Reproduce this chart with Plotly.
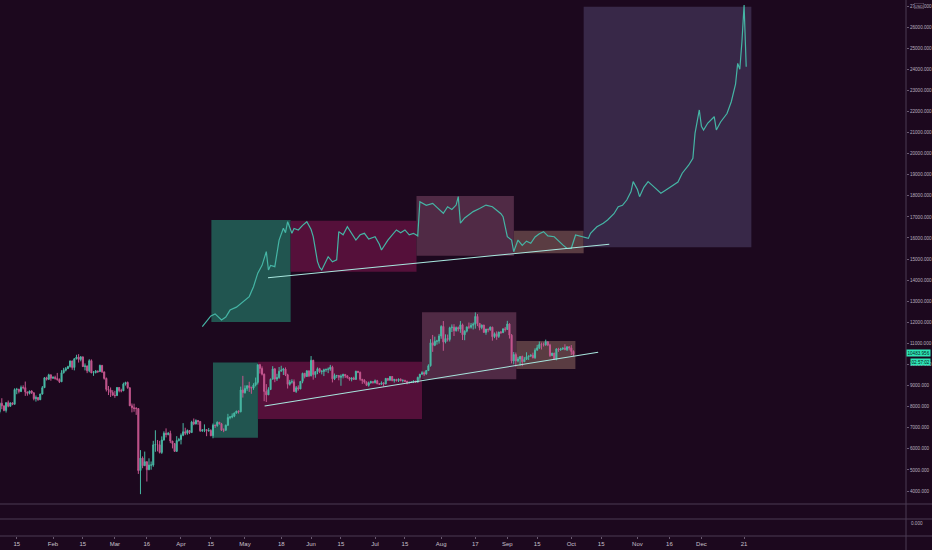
import plotly.graph_objects as go
import pandas as pd

# daily BTCUSD candles, Jan 7 - Oct 2 2020
first_open = 7760
closes = [
    # Jan 7-31
    8160, 8040, 7820, 8190, 8020, 8180, 8110, 8810, 8820, 8720, 8910, 8900, 8700, 8630, 8740, 8660,
    8380, 8430, 8330, 8600, 8900, 9370, 9300, 9510, 9350,
    # Feb
    9390, 9340, 9290, 9180, 9610, 9730, 9800, 9900, 10170, 9860, 10270, 10350, 10240, 10360, 9900,
    9930, 9700, 10180, 9600, 9610, 9690, 9660, 9960, 9650, 9340, 8820, 8790, 8670, 8540,
    # Mar
    8530, 8910, 8760, 8750, 9070, 9150, 8900, 8040, 7950, 7910, 7910, 4970, 5560, 5200, 5390, 5010,
    5230, 5230, 6190, 6200, 6190, 5830, 6420, 6740, 6680, 6730, 6370, 6250, 5880, 6390, 6440,
    # Apr
    6640, 6810, 6740, 6870, 6770, 7270, 7180, 7340, 7300, 6860, 6880, 6910, 6860, 6870, 6620, 7120,
    7100, 7260, 7190, 6880, 6880, 7120, 7480, 7510, 7550, 7700, 7790, 7760, 8790, 8660,
    # May
    8860, 8990, 8910, 8880, 9030, 9150, 9990, 9810, 9540, 8720, 8560, 8810, 9300, 9790, 9310, 9380,
    9680, 9730, 9780, 9510, 9060, 9170, 9180, 8720, 8900, 8840, 9200, 9580, 9430, 9700, 9460,
    # Jun
    10200, 9520, 9660, 9800, 9660, 9670, 9750, 9770, 9780, 9870, 9320, 9480, 9480, 9390, 9450, 9530,
    9460, 9380, 9300, 9360, 9290, 9680, 9630, 9300, 9250, 9160, 9010, 9120, 9190, 9140,
    # Jul
    9230, 9090, 9060, 9130, 9080, 9340, 9250, 9430, 9240, 9290, 9240, 9300, 9240, 9250, 9200, 9130,
    9150, 9170, 9210, 9160, 9390, 9540, 9610, 9550, 9710, 9940, 11030, 10910, 11100, 11110, 11350,
    # Aug
    11800, 11070, 11230, 11190, 11740, 11770, 11600, 11750, 11680, 11880, 11410, 11580, 11780, 11770,
    11860, 11910, 12280, 11950, 11750, 11870, 11520, 11680, 11650, 11770, 11320, 11460, 11330, 11540,
    11510, 11690, 11660,
    # Sep
    11920, 11390, 10170, 10470, 10170, 10260, 10380, 10130, 10240, 10370, 10400, 10440, 10320, 10680,
    10790, 10950, 10940, 10930, 11080, 10920, 10420, 10540, 10240, 10740, 10690, 10730, 10780, 10700,
    10840, 10780,
    # Oct 1-2
    10620, 10483.956,
]
highs = [
    8210, 8400, 8050, 8200, 8290, 8190, 8190, 8870, 8890, 8850, 9000, 9010, 9190, 8710, 8760, 8780,
    8670, 8530, 8460, 8610, 8980, 9400, 9420, 9560, 9520,
    9440, 9470, 9600, 9340, 9730, 9840, 9880, 9940, 10180, 10160, 10300, 10460, 10490, 10400, 10380,
    10050, 9950, 10250, 10240, 9690, 9740, 9710, 9990, 9970, 9650, 9380, 8980, 8910, 8780,
    8750, 8930, 8930, 8850, 9140, 9180, 9190, 8900, 8150, 8140, 7980, 7930, 5940, 5640, 5870, 5380,
    5550, 5400, 6380, 6880, 6420, 6380, 6590, 6830, 6970, 6800, 6860, 6370, 6260, 6600, 6520,
    6730, 7220, 7000, 6920, 6880, 7330, 7440, 7400, 7370, 7300, 6940, 7160, 6920, 6990, 6930, 7200,
    7150, 7300, 7270, 7230, 6970, 7150, 7660, 7560, 7680, 7720, 7800, 7820, 8950, 9460,
    9010, 9010, 9180, 8950, 9110, 9380, 9990, 10030, 9910, 9570, 9070, 8920, 9330, 9920, 9830, 9560,
    9880, 9940, 9840, 9860, 9560, 9270, 9300, 9290, 8980, 9010, 9210, 9610, 9600, 9720, 9700,
    10400, 10220, 9680, 9860, 9840, 9740, 9800, 9800, 9860, 9980, 9940, 9570, 9490, 9490, 9530, 9560,
    9540, 9480, 9390, 9390, 9420, 9700, 9690, 9660, 9310, 9300, 9200, 9190, 9230, 9190,
    9290, 9270, 9120, 9200, 9150, 9360, 9360, 9450, 9450, 9320, 9320, 9340, 9340, 9290, 9270, 9230,
    9190, 9190, 9240, 9220, 9420, 9550, 9680, 9670, 9730, 10010, 11200, 11400, 11320, 11170, 11450,
    11860, 12060, 11430, 11420, 11790, 11900, 11910, 11800, 11800, 12060, 11940, 11620, 11800, 11990,
    11970, 11990, 12470, 12390, 11960, 11890, 11880, 11680, 11700, 11800, 11790, 11520, 11570, 11550,
    11590, 11700, 11780,
    12070, 11950, 11440, 10590, 10570, 10360, 10400, 10420, 10350, 10580, 10420, 10480, 10560, 10770,
    10930, 11090, 11040, 11040, 11180, 11050, 10980, 10550, 10550, 10770, 10790, 10790, 10800, 10960,
    10860, 10860,
    10920, 10670,
]
lows = [
    7680, 7880, 7780, 7720, 7970, 8000, 8070, 8110, 8590, 8630, 8690, 8820, 8510, 8520, 8580, 8600,
    8300, 8240, 8280, 8310, 8570, 8890, 9240, 9260, 9230,
    9320, 9280, 9230, 9120, 9170, 9570, 9670, 9800, 9850, 9750, 9720, 10240, 10090, 10150, 9880,
    9720, 9590, 9630, 9600, 9460, 9580, 9600, 9660, 9600, 9280, 8720, 8550, 8460, 8530,
    8420, 8500, 8680, 8680, 8750, 9000, 8850, 8030, 7730, 7760, 7610, 4810, 3850, 5080, 5210, 4450,
    4990, 5010, 5150, 5860, 5880, 5780, 5760, 6390, 6540, 6640, 6270, 6020, 5900, 5860, 6350,
    6210, 6600, 6650, 6670, 6700, 6780, 7120, 7160, 7140, 6800, 6800, 6790, 6600, 6810, 6600, 6500,
    6990, 7050, 7150, 6850, 6790, 6860, 7080, 7400, 7450, 7500, 7670, 7670, 7730, 8430,
    8620, 8750, 8700, 8610, 8800, 8960, 9050, 9570, 9480, 8260, 8220, 8580, 8800, 9300, 9160, 9220,
    9320, 9670, 9500, 9450, 8860, 9000, 9090, 8710, 8650, 8760, 8830, 9110, 9340, 9410, 9400,
    9440, 9280, 9370, 9540, 9590, 9530, 9450, 9650, 9590, 9700, 9150, 9260, 9360, 9250, 8990, 9340,
    9360, 9330, 9230, 9200, 9280, 9290, 9590, 9230, 9080, 9090, 8990, 8950, 9100, 9090,
    9100, 9060, 9040, 9050, 8950, 9060, 9230, 9240, 9200, 9140, 9190, 9170, 9200, 9150, 9170, 9060,
    9110, 9130, 9120, 9130, 9150, 9270, 9520, 9460, 9520, 9700, 9900, 10600, 10870, 10940, 10990,
    11220, 10650, 11000, 11090, 11090, 11540, 11350, 11560, 11570, 11500, 11160, 11150, 11520, 11680,
    11700, 11660, 11700, 11820, 11620, 11670, 11510, 11410, 11530, 11600, 11130, 11250, 11170, 11260,
    11450, 11490, 11560,
    11660, 11230, 10050, 10010, 9900, 10100, 9940, 9920, 10120, 10220, 10210, 10360, 10290, 10270,
    10650, 10730, 10710, 10850, 10890, 10870, 10360, 10420, 10220, 10200, 10600, 10650, 10690, 10680,
    10640, 10670,
    10450, 10390,
]
dates = pd.date_range("2020-01-07", periods=len(closes), freq="D")
opens = [first_open] + closes[:-1]

# 2017 fractal projected over 2020 (teal line)
fractal_dates = [
    "2020-04-11", "2020-04-13", "2020-04-15", "2020-04-17", "2020-04-20", "2020-04-22", "2020-04-24",
    "2020-04-27", "2020-04-29", "2020-05-01", "2020-05-03", "2020-05-05", "2020-05-07", "2020-05-09",
    "2020-05-11", "2020-05-12", "2020-05-13", "2020-05-15", "2020-05-17", "2020-05-19", "2020-05-20",
    "2020-05-21", "2020-05-23", "2020-05-24", "2020-05-26", "2020-05-28", "2020-05-30", "2020-06-01",
    "2020-06-02", "2020-06-04", "2020-06-05", "2020-06-06", "2020-06-08", "2020-06-09", "2020-06-11",
    "2020-06-13", "2020-06-14", "2020-06-16", "2020-06-18", "2020-06-20", "2020-06-22", "2020-06-24",
    "2020-06-26", "2020-06-28", "2020-07-01", "2020-07-03", "2020-07-04", "2020-07-07", "2020-07-09",
    "2020-07-11", "2020-07-13", "2020-07-15", "2020-07-17", "2020-07-19", "2020-07-21", "2020-07-22",
    "2020-07-25", "2020-07-28", "2020-07-30", "2020-08-02", "2020-08-04", "2020-08-06", "2020-08-08",
    "2020-08-09", "2020-08-10", "2020-08-12", "2020-08-14", "2020-08-16", "2020-08-19", "2020-08-22",
    "2020-08-25", "2020-08-27", "2020-08-29", "2020-08-30", "2020-09-01", "2020-09-03", "2020-09-04",
    "2020-09-06", "2020-09-08", "2020-09-10", "2020-09-12", "2020-09-14", "2020-09-16", "2020-09-18",
    "2020-09-20", "2020-09-23", "2020-09-25", "2020-09-27", "2020-09-29", "2020-10-01", "2020-10-03",
    "2020-10-06", "2020-10-09", "2020-10-10", "2020-10-13", "2020-10-16", "2020-10-18", "2020-10-21",
    "2020-10-23", "2020-10-25", "2020-10-27", "2020-10-29", "2020-10-30", "2020-11-01", "2020-11-02",
    "2020-11-04", "2020-11-06", "2020-11-09", "2020-11-12", "2020-11-14", "2020-11-17", "2020-11-20",
    "2020-11-22", "2020-11-25", "2020-11-27", "2020-11-28", "2020-11-30", "2020-12-01", "2020-12-02",
    "2020-12-04", "2020-12-07", "2020-12-08", "2020-12-10", "2020-12-12", "2020-12-13", "2020-12-15",
    "2020-12-17", "2020-12-18", "2020-12-19", "2020-12-20", "2020-12-21", "2020-12-22",
]
fractal_prices = [
    11790, 12050, 12300, 12400, 12110, 12250, 12580,
    12720, 12900, 13050, 13220, 13690, 14330, 14700,
    15350, 14480, 14700, 14640, 15900, 16460, 16250,
    16770, 16220, 16450, 16380, 16600, 16770, 16400,
    16060, 14880, 14600, 14480, 14900, 15110, 14870,
    14960, 16300, 16150, 16530, 16200, 15900, 16150,
    16220, 15950, 16060, 15700, 15430, 15900, 16150,
    16380, 16250, 16380, 16150, 16220, 16100, 17720,
    17550, 17640, 17450, 17170, 17480, 17350, 17560,
    17960, 16700, 16950, 17100, 17250, 17400, 17560,
    17480, 17330, 17150, 17010, 16060, 15900, 15350,
    15900, 15650, 15850, 15750, 16050, 16200, 16300,
    16100, 16060, 15850, 15670, 15500, 15510, 16140,
    16060, 15980, 16220, 16530, 16700, 16850, 17150,
    17480, 17550, 17800, 18200, 18670, 18300, 17960,
    18400, 18670, 18400, 18120, 18250, 18430, 18650,
    19070, 19450, 19780, 20960, 22070, 21300, 21120,
    21450, 21750, 21120, 21500, 21750, 21900, 22460,
    23300, 24280, 24000, 25310, 27050, 24120,
]

# boxes: (start, end, low, high, colour)
box_starts = ["2020-04-15 06:00", "2020-05-22 10:00", "2020-07-20 10:00", "2020-09-04 02:00", "2020-10-06 19:00",
              "2020-04-16", "2020-05-07 02:00", "2020-07-23", "2020-09-05 05:00"]
box_ends = ["2020-05-22 10:00", "2020-07-20 10:00", "2020-09-04 02:00", "2020-10-06 19:00", "2020-12-24 10:00",
            "2020-05-07 02:00", "2020-07-23", "2020-09-05 05:00", "2020-10-02 22:00"]
box_lows = [12015, 14400, 15160, 15270, 15560, 6530, 7420, 9300, 9790]
box_highs = [16850, 16820, 17990, 16345, 26970, 10100, 10130, 12475, 11115]
box_colors = ["#215550", "#55103a", "#502a45", "#5a3c42", "#382848",
              "#215550", "#55103a", "#502a45", "#5a3c42"]

# trend lines
trend_starts = ["2020-05-11 19:00", "2020-05-10 05:00"]
trend_ends = ["2020-10-18 19:00", "2020-10-13 14:00"]
trend_y0 = [14116, 8032]
trend_y1 = [15700, 10578]

tick_dates = ["2020-01-15", "2020-02-01", "2020-02-15", "2020-03-01", "2020-03-16", "2020-04-01",
              "2020-04-15", "2020-05-01", "2020-05-18", "2020-06-01", "2020-06-15", "2020-07-01",
              "2020-07-15", "2020-08-01", "2020-08-17", "2020-09-01", "2020-09-15", "2020-10-01",
              "2020-10-15", "2020-11-01", "2020-11-16", "2020-12-01", "2020-12-21"]
tick_text = ["15", "Feb", "15", "Mar", "16", "Apr", "15", "May", "18", "Jun", "15", "Jul", "15", "Aug",
             "17", "Sep", "15", "Oct", "15", "Nov", "16", "Dec", "21"]
price_ticks = list(range(4000, 28000, 1000))

bg = "#1c081e"
sep = "#4a3a52"
narrow = "Liberation Sans Narrow, Liberation Sans, Arial, sans-serif"
label_font = dict(family=narrow, size=4.6, color="#b8aebe")

fig = go.Figure()

fig.add_trace(go.Candlestick(
    x=dates, open=opens, high=highs, low=lows, close=closes,
    increasing=dict(line=dict(color="#48b8a4", width=1), fillcolor="#48b8a4"),
    decreasing=dict(line=dict(color="#c4568e", width=1), fillcolor="#c4568e"),
    whiskerwidth=0, showlegend=False,
))

fig.add_trace(go.Scatter(
    x=fractal_dates, y=fractal_prices, mode="lines",
    line=dict(color="#45b5a5", width=1.2), showlegend=False,
))

shapes = []
for x0, x1, y0, y1, c in zip(box_starts, box_ends, box_lows, box_highs, box_colors):
    shapes.append(dict(type="rect", xref="x", yref="y", x0=x0, x1=x1, y0=y0, y1=y1,
                       fillcolor=c, line=dict(width=0), layer="below"))
for x0, x1, y0, y1 in zip(trend_starts, trend_ends, trend_y0, trend_y1):
    shapes.append(dict(type="line", xref="x", yref="y", x0=x0, x1=x1, y0=y0, y1=y1,
                       line=dict(color="#a8e6de", width=1.1)))

# pane separators and price-scale border
for py in [0.0597, 0.0317, 0.0]:
    shapes.append(dict(type="line", xref="paper", yref="paper", x0=0, x1=1.03, y0=py, y1=py,
                       line=dict(color=sep, width=1)))
shapes.append(dict(type="line", xref="paper", yref="paper", x0=1, x1=1, y0=-0.03, y1=1,
                   line=dict(color=sep, width=1)))

badge_font = dict(family=narrow, size=4.6, color="#06201a")
annotations = [
    dict(xref="paper", yref="y", x=1, y=10483.956, xanchor="left", yshift=1, text="10483.956",
         showarrow=False, bgcolor="#2ee6b6", font=badge_font, borderpad=0.5),
    dict(xref="paper", yref="y", x=1, y=10483.956, xanchor="left", xshift=4, yshift=-8, text="02:57:02",
         showarrow=False, bgcolor="#2ee6b6", font=badge_font, borderpad=0.5),
    dict(xref="paper", yref="paper", x=1, y=0.0149, xanchor="left", xshift=3, text="0.000",
         showarrow=False, font=label_font),
    dict(xref="paper", yref="y", x=1, y=27000, xanchor="left", xshift=8, text="USD",
         showarrow=False, bgcolor=bg, bordercolor="#6a5a70", borderwidth=0.5, borderpad=0,
         font=dict(family=narrow, size=4.2, color="#b8aebe")),
]

fig.update_layout(
    width=932, height=550,
    margin=dict(l=0, r=26, t=0, b=14),
    paper_bgcolor=bg, plot_bgcolor=bg,
    shapes=shapes, annotations=annotations,
    showlegend=False,
    xaxis=dict(
        type="date", range=["2020-01-07 03:30", "2021-03-06 22:00"],
        anchor="free", position=0,
        rangeslider=dict(visible=False), showgrid=False, zeroline=False,
        tickvals=tick_dates, ticktext=tick_text,
        ticks="outside", ticklen=2, tickcolor="#6a5a70",
        tickfont=dict(family=narrow, size=6, color="#c8c0cc"),
    ),
    yaxis=dict(
        domain=[0.0616, 1], range=[3432, 27285], side="right",
        showgrid=False, zeroline=False,
        tickvals=price_ticks, tickformat=".3f",
        ticks="outside", ticklen=2, tickcolor="#6a5a70",
        tickfont=label_font,
    ),
)

# drop the page's default body margin so the chart sits flush in the window
fig.write_html("out.html", config={"displayModeBar": False},
               post_script="document.body.style.margin='0px';")
